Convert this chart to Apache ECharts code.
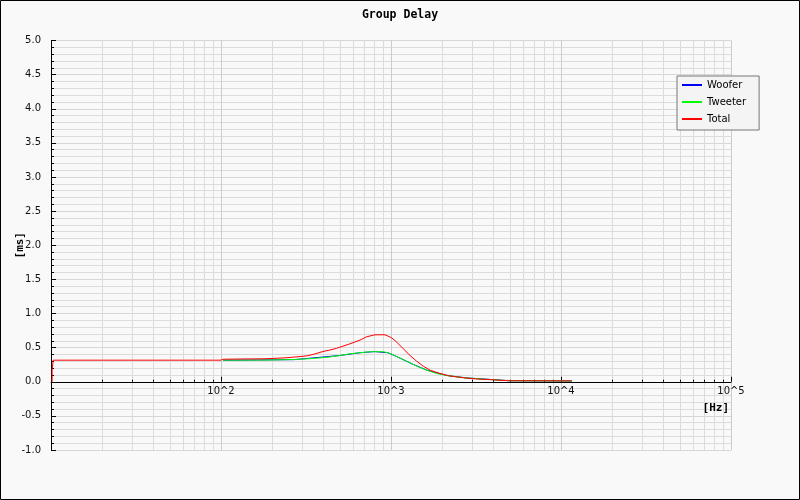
<!DOCTYPE html>
<html><head><meta charset="utf-8">
<script src="https://cdn.jsdelivr.net/npm/echarts@6/dist/echarts.min.js"></script>
<style>html,body{margin:0;padding:0;background:#f9f9f9}#c{width:800px;height:500px}</style>
</head><body><div id="c"></div>
<script>
// Frequencies in Hz, group delay in ms
const totalHz = [10.15, 10.15, 10.3, 10.3, 100, 103, 184, 238, 280, 321, 348, 382, 409, 438, 479, 501, 574, 657, 719, 805, 922, 1009, 1081, 1181, 1294, 1416, 1549, 1695, 1942, 2223, 2546, 2917, 3342, 3981, 4560, 5016, 11600];
const totalMs = [0, 0.17, 0.17, 0.316, 0.316, 0.33, 0.337, 0.35, 0.365, 0.38, 0.40, 0.43, 0.45, 0.465, 0.49, 0.507, 0.556, 0.61, 0.659, 0.688, 0.688, 0.644, 0.58, 0.483, 0.385, 0.30, 0.228, 0.17, 0.12, 0.085, 0.065, 0.048, 0.038, 0.029, 0.019, 0.015, 0.013];

const tweeterHz = [103, 187, 270, 343, 426, 501, 574, 657, 752, 897, 960, 1028, 1100, 1209, 1323, 1443, 1622, 1858, 2127, 2434, 2787, 3342, 3981, 4560, 5016, 11600];
const tweeterMs = [0.316, 0.318, 0.326, 0.34, 0.36, 0.385, 0.41, 0.425, 0.44, 0.44, 0.425, 0.395, 0.36, 0.312, 0.264, 0.22, 0.17, 0.12, 0.092, 0.073, 0.056, 0.042, 0.03, 0.02, 0.015, 0.012];

const wooferHz = [103, 270, 501, 657, 800, 960, 1100, 1323, 1622, 2127, 2787, 5016, 11600];
const wooferMs = [0.314, 0.324, 0.385, 0.425, 0.442, 0.425, 0.36, 0.264, 0.17, 0.092, 0.056, 0.015, 0.012];

const seriesNames = ['Woofer', 'Tweeter', 'Total'];
const seriesColors = ['#0000ff', '#00ff00', '#ff0000'];

const zip = (a, b) => a.map((v, i) => [v, b[i]]);
const dataSets = [zip(wooferHz, wooferMs), zip(tweeterHz, tweeterMs), zip(totalHz, totalMs)];

const Y_MIN = -1, Y_MAX = 5;
const GRID_TOP = 40.5, GRID_BOTTOM = 50;
const plotH = 500 - GRID_TOP - GRID_BOTTOM;
// shift the x axis up from the grid bottom to the y = 0 line
const xAxisOffset = -plotH * (0 - Y_MIN) / (Y_MAX - Y_MIN);

const chart = echarts.init(document.getElementById('c'), null, {renderer: 'canvas'});
chart.setOption({
  backgroundColor: '#f9f9f9',
  animation: false,
  title: {
    text: 'Group Delay', left: 'center', top: 4,
    textStyle: {fontFamily: 'DejaVu Sans Mono', fontWeight: 'bold', fontSize: 11.5, color: '#000'}
  },
  legend: {
    orient: 'vertical', left: 677, top: 76,
    data: seriesNames, icon: 'rect', itemWidth: 20, itemHeight: 2, itemGap: 5,
    padding: [3, 13, 5, 5], backgroundColor: '#f4f4f4', borderColor: '#777', borderWidth: 1, borderRadius: 0,
    textStyle: {fontFamily: 'DejaVu Sans', fontSize: 10, color: '#000', lineHeight: 12}
  },
  graphic: [{
    type: 'rect', z: 100, silent: true,
    shape: {x: 0.5, y: 0.5, width: 799, height: 499},
    style: {fill: null, stroke: '#000', lineWidth: 1}
  }],
  grid: {left: 51, right: 69, top: GRID_TOP, bottom: GRID_BOTTOM, outerBoundsMode: 'none', containLabel: false,
         show: true, backgroundColor: '#f9f9f9', borderWidth: 0},
  xAxis: {
    type: 'log', logBase: 10, min: 10, max: 100000, position: 'bottom', offset: xAxisOffset,
    name: '[Hz]', nameLocation: 'end', nameGap: -2, nameMoveOverlap: false,
    nameTextStyle: {fontFamily: 'DejaVu Sans Mono', fontWeight: 'bold', fontSize: 11, color: '#000', align: 'right', verticalAlign: 'top', lineHeight: 52},
    axisLine: {onZero: false, lineStyle: {color: '#000', width: 1}},
    axisTick: {inside: true, length: 5, lineStyle: {color: '#000'}},
    minorTick: {show: true, splitNumber: 9, length: 2, lineStyle: {color: '#000'}},
    splitLine: {show: true, lineStyle: {color: '#cccccc', width: 1}},
    minorSplitLine: {show: true, lineStyle: {color: '#dcdcdc', width: 1}},
    axisLabel: {
      margin: 5, fontFamily: 'DejaVu Sans', fontSize: 10, color: '#111',
      formatter: v => (Math.abs(v - 10) < 1e-6 ? '' : '10^' + Math.round(Math.log10(v)))
    }
  },
  yAxis: {
    type: 'value', min: Y_MIN, max: Y_MAX, interval: 0.5,
    name: '[ms]', nameLocation: 'middle', nameGap: 25, nameRotate: 90, nameMoveOverlap: false,
    nameTextStyle: {fontFamily: 'DejaVu Sans Mono', fontWeight: 'bold', fontSize: 11, color: '#000'},
    axisLine: {show: true, onZero: false, lineStyle: {color: '#000', width: 1}},
    axisTick: {show: true, inside: true, length: 5, lineStyle: {color: '#000'}},
    minorTick: {show: true, splitNumber: 5, length: 3, lineStyle: {color: '#000'}},
    splitLine: {show: true, lineStyle: {color: '#d6d6d6', width: 1}},
    minorSplitLine: {show: true, lineStyle: {color: '#dcdcdc', width: 1}},
    axisLabel: {margin: 10, fontFamily: 'DejaVu Sans', fontSize: 10, color: '#111', formatter: v => v.toFixed(1)}
  },
  series: dataSets.map((d, i) => ({
    name: seriesNames[i], type: 'line', data: d, showSymbol: false, symbol: 'none',
    color: seriesColors[i], lineStyle: {width: 1, color: seriesColors[i]}, z: 2 + i
  }))
});
</script></body></html>
